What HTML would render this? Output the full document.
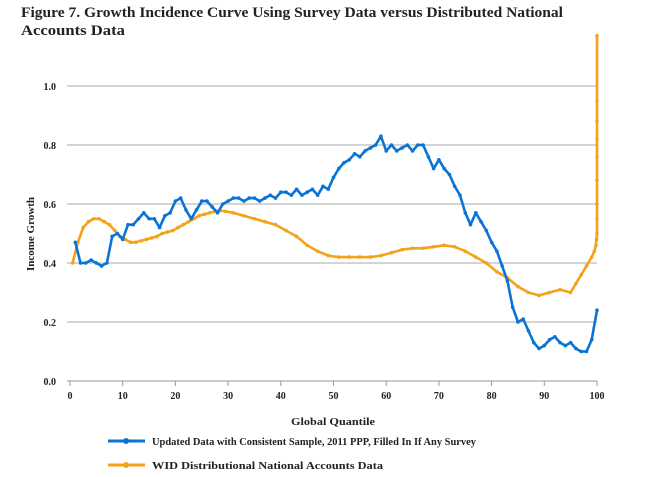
<!DOCTYPE html>
<html><head><meta charset="utf-8"><style>
body{margin:0;background:#fff;}
svg{display:block;}
text{font-family:"Liberation Serif",serif;fill:#222;}
</style></head><body>
<svg id="chart" width="646" height="477" viewBox="0 0 646 477">
<text x="21" y="17" font-size="15" font-weight="bold" textLength="542" lengthAdjust="spacingAndGlyphs">Figure 7. Growth Incidence Curve Using Survey Data versus Distributed National</text>
<text x="21" y="35" font-size="15" font-weight="bold" textLength="104" lengthAdjust="spacingAndGlyphs">Accounts Data</text>
<g id="grid"></g><g id="axes"></g><g id="series"></g>
<text transform="translate(34,234) rotate(-90)" text-anchor="middle" font-size="11" font-weight="bold">Income Growth</text>
<text x="291" y="425" font-size="11" font-weight="bold" textLength="84" lengthAdjust="spacingAndGlyphs">Global Quantile</text>
<g>
<g>
<line x1="108" y1="441" x2="145" y2="441" stroke="#0a74d6" stroke-width="3"/>
<circle cx="126" cy="441" r="3" fill="#0a74d6"/>
<text x="152" y="445" font-size="11" font-weight="bold" textLength="324" lengthAdjust="spacingAndGlyphs">Updated Data with Consistent Sample, 2011 PPP, Filled In If Any Survey</text>
</g>
<g>
<line x1="108" y1="465" x2="145" y2="465" stroke="#f5a21b" stroke-width="3"/>
<circle cx="126" cy="465" r="3" fill="#f5a21b"/>
<text x="152" y="469" font-size="11" font-weight="bold" textLength="231" lengthAdjust="spacingAndGlyphs">WID Distributional National Accounts Data</text>
</g>
</g>
</svg>
<script>
const yTicks=[0,0.2,0.4,0.6,0.8,1.0];
const yTickLabels=["0.0","0.2","0.4","0.6","0.8","1.0"];
const xTicks=[0,10,20,30,40,50,60,70,80,90,100];
const surveyX=[1,2,3,4,5,6,7,8,9,10,11,12,13,14,15,16,17,18,19,20,21,22,23,24,25,26,27,28,29,30,31,32,33,34,35,36,37,38,39,40,41,42,43,44,45,46,47,48,49,50,51,52,53,54,55,56,57,58,59,60,61,62,63,64,65,66,67,68,69,70,71,72,73,74,75,76,77,78,79,80,81,82,83,84,85,86,87,88,89,90,91,92,93,94,95,96,97,98,99,100];
const surveyY=[0.47,0.40,0.40,0.41,0.40,0.39,0.40,0.49,0.50,0.48,0.53,0.53,0.55,0.57,0.55,0.55,0.52,0.56,0.57,0.61,0.62,0.58,0.55,0.58,0.61,0.61,0.59,0.57,0.60,0.61,0.62,0.62,0.61,0.62,0.62,0.61,0.62,0.63,0.62,0.64,0.64,0.63,0.65,0.63,0.64,0.65,0.63,0.66,0.65,0.69,0.72,0.74,0.75,0.77,0.76,0.78,0.79,0.80,0.83,0.78,0.80,0.78,0.79,0.80,0.78,0.80,0.80,0.76,0.72,0.75,0.72,0.70,0.66,0.63,0.57,0.53,0.57,0.54,0.51,0.47,0.44,0.39,0.34,0.25,0.20,0.21,0.17,0.13,0.11,0.12,0.14,0.15,0.13,0.12,0.13,0.11,0.10,0.10,0.14,0.24];
const widX=[0.5,1.5,2.5,3.5,4.5,5.5,6.5,7.5,8.5,9.5,10.5,11.5,12.5,13.5,14.5,15.5,16.5,17.5,18.5,19.5,20.5,21.5,22.5,23.5,24.5,25.5,26.5,27.5,28.5,29.5,31,33,35,37,39,41,43,45,47,49,51,53,55,57,59,61,63,65,67,69,71,73,75,77,79,81,83,85,87,89,91,93,95,96,97,98,99,99.5,99.8,99.9,100,100,100,100,100,100,100,100,100];
const widY=[0.40,0.47,0.52,0.54,0.55,0.55,0.54,0.53,0.51,0.49,0.48,0.47,0.47,0.475,0.48,0.485,0.49,0.50,0.505,0.51,0.52,0.53,0.54,0.55,0.56,0.565,0.57,0.575,0.578,0.575,0.57,0.56,0.55,0.54,0.53,0.51,0.49,0.46,0.44,0.425,0.42,0.42,0.42,0.42,0.425,0.435,0.445,0.45,0.45,0.455,0.46,0.455,0.44,0.42,0.40,0.37,0.35,0.32,0.30,0.29,0.30,0.31,0.30,0.33,0.36,0.39,0.42,0.44,0.46,0.48,0.50,0.55,0.60,0.68,0.76,0.82,0.88,0.95,1.17];
const NS="http://www.w3.org/2000/svg";
const X0=70,X1=597,Y0=381,Y1=86;
function sx(v){return X0+(X1-X0)*v/100;}
function sy(v){return Y0-(Y0-Y1)*v;}
function mk(tag,attrs,parent){const e=document.createElementNS(NS,tag);for(const k in attrs)e.setAttribute(k,attrs[k]);parent.appendChild(e);return e;}
const grid=document.getElementById('grid'),axes=document.getElementById('axes'),series=document.getElementById('series');
yTicks.forEach((t,i)=>{
 if(t>0){const l=mk('line',{x1:X0-3,x2:X1,y1:sy(t),y2:sy(t),stroke:'#aaa','stroke-width':1},grid);
 
 }
 const tx=mk('text',{x:56,y:sy(t)+4,'text-anchor':'end','font-size':10,'font-weight':'bold'},axes);
 tx.textContent=yTickLabels[i];
 
 
});
const ax=mk('line',{x1:X0-3,x2:X1,y1:Y0,y2:Y0,stroke:'#999','stroke-width':1},axes);


xTicks.forEach(t=>{
 mk('line',{x1:sx(t),x2:sx(t),y1:Y0,y2:Y0+5,stroke:'#999'},axes);
 const tx=mk('text',{x:sx(t),y:Y0+18,'text-anchor':'middle','font-size':10,'font-weight':'bold'},axes);
 tx.textContent=t;
 
 
});
function draw(xs,ys,color,name){
 const g=mk('g',{},series);
 
 
 const pts=xs.map((x,i)=>sx(x).toFixed(1)+','+sy(ys[i]).toFixed(1)).join(' ');
 mk('polyline',{points:pts,fill:'none',stroke:color,'stroke-width':2.6,'stroke-linejoin':'round'},g);
 xs.forEach((x,i)=>{const c=mk('circle',{cx:sx(x),cy:sy(ys[i]),r:1.8,fill:color},g);
  
  });
}
draw(widX,widY,'#f5a21b','series-wid');
draw(surveyX,surveyY,'#0a74d6','series-survey');
</script>
</body></html>
